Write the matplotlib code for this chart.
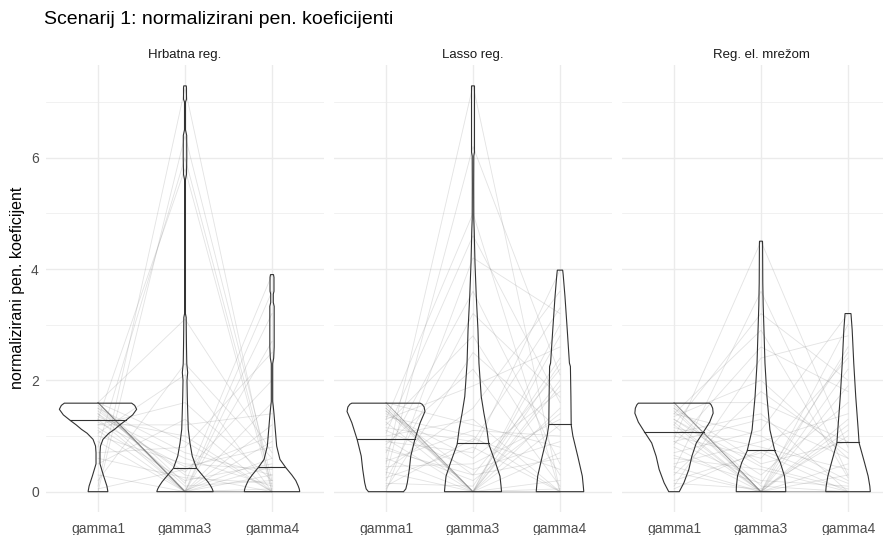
import matplotlib
matplotlib.use("Agg")
import matplotlib.pyplot as plt
import numpy as np

plt.rcParams['font.family'] = ['Liberation Sans', 'DejaVu Sans']

title = "Scenarij 1: normalizirani pen. koeficijenti"
facets = ["Hrbatna reg.", "Lasso reg.", "Reg. el. mrežom"]
groups = ["gamma1", "gamma3", "gamma4"]
ylabel = "normalizirani pen. koeficijent"

# paired observations per facet (gamma1, gamma3, gamma4)
ridge_g1 = [1.6, 1.6, 1.6, 1.6, 1.6, 1.6, 1.6, 1.6, 1.6, 1.6, 1.55, 1.5, 1.45, 1.4, 1.35, 1.3, 1.3, 1.25, 1.2, 1.15,
            1.1, 1.05, 1.0, 0.9, 0.8, 0.7, 0.5, 0.3, 0.2, 0.1, 0.05, 0.0, 1.6, 1.6, 1.6, 1.5, 1.4, 1.3, 0.6, 1.2]
ridge_g3 = [0.0, 0.0, 0.0, 0.0, 0.0, 0.0, 0.0, 0.0, 0.02, 0.0, 0.0, 0.1, 0.3, 0.0, 0.6, 1.0, 0.0, 0.45, 1.6, 0.2,
            0.0, 2.1, 0.5, 0.0, 6.0, 0.8, 1.3, 0.0, 2.3, 7.25, 0.4, 6.4, 3.1, 0.9, 0.15, 0.7, 0.35, 5.8, 0.25, 1.2]
ridge_g4 = [0.0, 0.0, 0.05, 0.0, 0.3, 0.0, 1.2, 0.0, 0.6, 0.0, 2.7, 0.2, 0.0, 0.45, 0.1, 0.0, 3.6, 0.8, 0.2, 0.5,
            1.6, 0.0, 0.4, 0.9, 0.1, 2.5, 0.0, 3.2, 0.6, 0.0, 1.0, 0.2, 0.7, 0.0, 3.9, 0.3, 2.0, 0.0, 0.15, 1.4]

lasso_g1 = [1.6, 1.6, 1.6, 1.6, 1.55, 1.5, 1.45, 1.4, 1.35, 1.3, 1.25, 1.2, 1.15, 1.1, 1.05, 1.0, 0.95, 0.9, 0.85, 0.8,
            0.7, 0.6, 0.55, 0.5, 0.45, 0.4, 0.35, 0.3, 0.25, 0.2, 0.15, 0.1, 0.05, 0.0, 0.0, 1.6, 1.5, 1.3, 0.75, 1.45]
lasso_g3 = [0.0, 0.0, 0.0, 0.0, 0.0, 0.0, 0.3, 0.6, 1.0, 1.9, 0.0, 2.8, 0.9, 0.4, 4.6, 1.3, 0.0, 0.7, 2.2, 0.2,
            3.6, 0.0, 1.1, 7.3, 0.5, 1.5, 0.0, 6.2, 0.8, 3.2, 0.1, 0.95, 2.5, 0.0, 4.2, 1.2, 0.0, 5.0, 0.3, 0.0]
lasso_g4 = [0.0, 1.5, 0.2, 2.3, 0.0, 3.0, 0.6, 1.8, 0.0, 2.6, 1.2, 0.3, 3.3, 0.9, 1.6, 0.0, 2.0, 3.98, 0.1, 1.4,
            0.5, 2.8, 1.0, 0.0, 1.3, 3.6, 0.7, 2.1, 0.0, 1.7, 2.4, 0.4, 1.1, 0.0, 3.2, 0.8, 1.9, 0.0, 2.2, 0.05]

enet_g1 = [1.6, 1.6, 1.6, 1.6, 1.6, 1.55, 1.5, 1.45, 1.4, 1.35, 1.3, 1.25, 1.2, 1.15, 1.1, 1.05, 1.0, 0.95, 0.9, 0.85,
           0.8, 0.7, 0.6, 0.5, 0.4, 0.35, 0.3, 0.2, 0.15, 0.1, 0.05, 1.6, 1.6, 1.5, 1.3, 1.2, 0.9, 0.65, 1.4, 0.45]
enet_g3 = [0.0, 0.0, 0.0, 0.0, 0.0, 0.1, 0.5, 0.0, 1.0, 2.0, 0.3, 0.0, 3.2, 0.8, 0.0, 1.4, 0.6, 4.5, 0.2, 2.6,
           0.0, 1.1, 0.4, 0.9, 3.6, 0.0, 1.8, 0.7, 0.05, 2.4, 0.75, 1.6, 0.0, 0.0, 0.45, 0.0, 1.3, 0.15, 2.9, 0.0]
enet_g4 = [0.0, 0.3, 0.0, 1.3, 2.6, 0.0, 0.9, 3.0, 0.2, 0.6, 1.6, 0.0, 2.0, 0.4, 1.1, 0.0, 2.4, 0.8, 0.1, 1.8,
           0.5, 3.2, 0.0, 1.4, 0.3, 2.2, 0.7, 0.0, 1.0, 2.8, 0.15, 0.9, 0.0, 1.9, 0.05, 1.2, 0.6, 2.5, 0.25, 0.0]

# violin density profiles (value level, relative density)
ridge_v1_y = [0, 0.1, 0.28, 0.5, 0.7, 0.82, 0.94, 1.05, 1.12, 1.2, 1.28, 1.38, 1.48, 1.55, 1.59]
ridge_v1_d = [10, 9, 5.7, 2.0, 2.0, 2.5, 5, 11, 16.7, 22, 28, 35, 39, 37, 34]
ridge_v3_y = [0, 0.05, 0.1, 0.18, 0.28, 0.42, 0.64, 0.875, 1.12, 1.4, 1.71, 2.0, 2.14, 2.3, 2.6, 2.9, 3.13, 3.2,
              5.6, 5.7, 6.0, 6.4, 6.5, 7.0, 7.05, 7.25, 7.29]
ridge_v3_d = [28.5, 27.5, 26, 23, 18.3, 11.7, 7.3, 5, 3.3, 2.8, 2.3, 2.0, 2.7, 1.8, 1.5, 1.3, 1.2, 0.4,
              0.4, 1.5, 1.8, 1.7, 0.5, 0.5, 1.5, 1.5, 1.3]
ridge_v4_y = [0, 0.05, 0.1, 0.2, 0.3, 0.43, 0.58, 0.82, 1.12, 1.4, 1.53, 1.62, 2.3, 2.4, 2.6, 3.1, 3.33, 3.4,
              3.55, 3.6, 3.85, 3.9]
ridge_v4_d = [28, 27.5, 26.5, 24, 20, 14, 8, 4.7, 3.3, 2.0, 1.3, 0.7, 0.7, 1.7, 2.2, 2.2, 2.2, 1.3,
              1.3, 2.0, 2.0, 1.5]

lasso_v1_y = [0, 0.05, 0.16, 0.4, 0.64, 0.93, 1.1, 1.24, 1.44, 1.52, 1.57, 1.59]
lasso_v1_d = [17.7, 20, 21.5, 23.5, 25, 29, 32, 34.5, 39.3, 38.5, 36.5, 34.5]
lasso_v3_y = [0, 0.1, 0.28, 0.52, 0.85, 1.12, 1.41, 1.71, 2.31, 2.91, 3.51, 4.11, 4.71, 4.9, 5.5, 6.03, 6.1,
              7.0, 7.29]
lasso_v3_d = [28.8, 28.3, 27.2, 22.7, 16, 14, 11, 8.3, 6, 5, 3.3, 2.0, 1.2, 0.8, 0.7, 0.8, 1.5, 1.5, 1.5]
lasso_v4_y = [0, 0.1, 0.28, 0.63, 1.0, 1.2, 1.71, 2.25, 2.31, 2.91, 3.51, 3.9, 3.98]
lasso_v4_d = [24, 23.5, 22.5, 18, 13, 11.3, 11, 10.5, 9.5, 7.3, 5, 3.2, 2.7]

enet_v1_y = [0, 0.16, 0.4, 0.635, 0.875, 1.08, 1.25, 1.41, 1.5, 1.56, 1.59]
enet_v1_d = [5.3, 10, 15, 18, 22.5, 30, 36, 39.5, 39, 37.5, 36]
enet_v3_y = [0, 0.1, 0.28, 0.52, 0.73, 1.11, 1.71, 2.31, 2.9, 3.35, 3.75, 4.45, 4.5]
enet_v3_d = [25, 24.8, 23.7, 19.5, 14, 9, 6, 4, 3, 2.2, 1.8, 1.6, 1.5]
enet_v4_y = [0, 0.1, 0.28, 0.52, 0.875, 1.11, 1.71, 2.31, 2.91, 3.15, 3.2]
enet_v4_d = [22.5, 22, 20.3, 16.7, 11.2, 10.3, 7.8, 5.8, 4.2, 3.2, 3.0]

# medians
ridge_med = [1.29, 0.43, 0.45]
lasso_med = [0.95, 0.87, 1.22]
enet_med = [1.08, 0.75, 0.9]

obs = [(ridge_g1, ridge_g3, ridge_g4), (lasso_g1, lasso_g3, lasso_g4), (enet_g1, enet_g3, enet_g4)]
profiles = [
    [(ridge_v1_y, ridge_v1_d), (ridge_v3_y, ridge_v3_d), (ridge_v4_y, ridge_v4_d)],
    [(lasso_v1_y, lasso_v1_d), (lasso_v3_y, lasso_v3_d), (lasso_v4_y, lasso_v4_d)],
    [(enet_v1_y, enet_v1_d), (enet_v3_y, enet_v3_d), (enet_v4_y, enet_v4_d)],
]
medians = [ridge_med, lasso_med, enet_med]

# all violins share one width scale (max full width 0.9)
dmax = max(max(d) for facet in profiles for _, d in facet)
wscale = 0.45 / dmax

W, H = 883, 535
fig = plt.figure(figsize=(W / 100, H / 100), dpi=100)

top_px, bot_px = 65, 512
panel_w = 278.4
lefts = [45.8, 333.8, 621.8]

for i, left in enumerate(lefts):
    ax = fig.add_axes([left / W, 1 - bot_px / H, panel_w / W, (bot_px - top_px) / H])
    ax.set_xlim(0.4, 3.6)
    ax.set_ylim(-0.365, 7.665)
    for s in ax.spines.values():
        s.set_visible(False)
    ax.set_xticks([1, 2, 3])
    ax.set_xticklabels(groups)
    ax.set_yticks([0, 2, 4, 6])
    ax.set_yticks([1, 3, 5, 7], minor=True)
    ax.tick_params(axis='both', length=0, colors='#4D4D4D', labelsize=10, pad=5)
    ax.tick_params(axis='x', pad=7)
    ax.tick_params(which='minor', length=0)
    if i > 0:
        ax.set_yticklabels([])
    ax.grid(True, which='major', color='#EBEBEB', lw=1.0)
    ax.grid(True, which='minor', axis='y', color='#EBEBEB', lw=0.5)
    ax.set_axisbelow(True)

    g1, g3, g4 = obs[i]
    for a, b, c in zip(g1, g3, g4):
        ax.plot([1, 2, 3], [a, b, c], color='#7F7F7F', alpha=0.22, lw=0.6, zorder=2)

    for k, (ys, ds) in enumerate(profiles[i]):
        xc = k + 1
        ys = np.array(ys)
        ws = np.array(ds) * wscale
        xs = np.concatenate([xc + ws, (xc - ws)[::-1]])
        yy = np.concatenate([ys, ys[::-1]])
        ax.fill(xs, yy, facecolor='none', edgecolor='#333333', lw=0.8, zorder=3)
        med = medians[i][k]
        mw = np.interp(med, ys, ws)
        ax.plot([xc - mw, xc + mw], [med, med], color='#333333', lw=0.8, zorder=3)

    fig.text((left + panel_w / 2) / W, 1 - 55 / H, facets[i], ha='center', va='center',
             fontsize=9.5, color='#1A1A1A')

fig.text(44 / W, 1 - 20 / H, title, ha='left', va='center', fontsize=14, color='black')
fig.text(18 / W, 1 - 288 / H, ylabel, rotation=90, ha='center', va='center', fontsize=11.5, color='black')

fig.savefig("out.png", dpi=100)
